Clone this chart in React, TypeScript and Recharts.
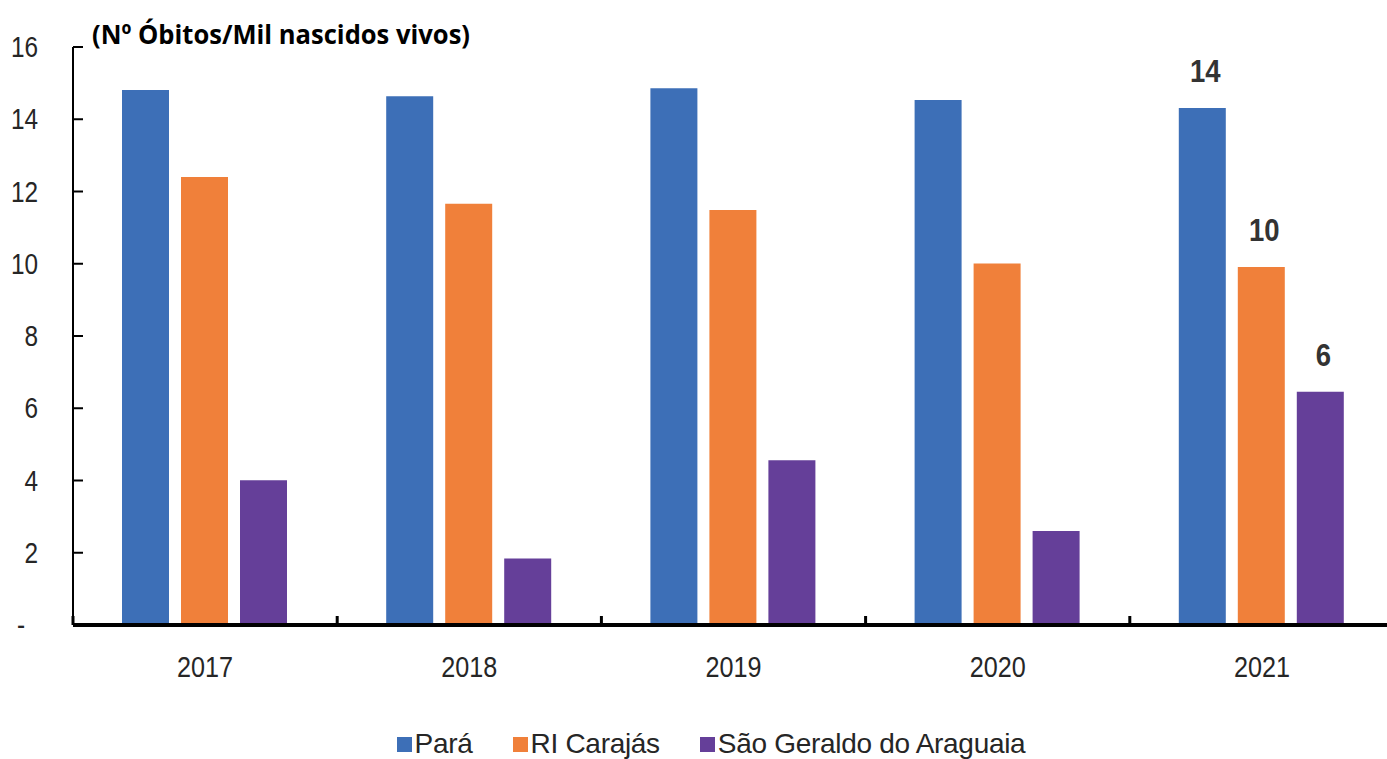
import { Bar, BarChart, LabelList, Legend, XAxis, YAxis } from "recharts";

// Mortalidade infantil (óbitos por mil nascidos vivos), 2017–2021
const YEARS = ["2017", "2018", "2019", "2020", "2021"];
const PARA = [14.81, 14.64, 14.86, 14.53, 14.31];
const RI_CARAJAS = [12.4, 11.66, 11.49, 10.01, 9.91];
const SAO_GERALDO = [4.01, 1.84, 4.56, 2.6, 6.46];
const Y_TICKS = [0, 2, 4, 6, 8, 10, 12, 14, 16];
const LABELLED_YEAR = "2021";

const SERIES = [
  { key: "para", name: "Pará", color: "#3d6fb7", values: PARA },
  { key: "ri", name: "RI Carajás", color: "#f0803a", values: RI_CARAJAS },
  { key: "sga", name: "São Geraldo do Araguaia", color: "#653f99", values: SAO_GERALDO },
];

const CHART_W = 1394;
const CHART_H = 759;
const Y_AXIS_W = 73;
const HALF_BAND = (CHART_W - Y_AXIS_W) / YEARS.length / 2;
const FONT = "'Liberation Sans', Arial, sans-serif";
const TEXT = "#262626";

const data = YEARS.map((year, i) => {
  const row: Record<string, string | number> = { year };
  for (const s of SERIES) row[s.key] = s.values[i];
  return row;
});

function YTick({ x, y, payload }: any) {
  const v = payload.value;
  return (
    <g>
      <line x1={x} x2={x + 10} y1={y} y2={y} stroke="#000" strokeWidth={2} />
      <g transform={`translate(${v === 0 ? x - 48 : x - 35},${y + 10}) scale(0.84,1)`}>
        <text textAnchor="end" fontSize={29} fontFamily={FONT} fill={TEXT}>
          {v === 0 ? "-" : v}
        </text>
      </g>
    </g>
  );
}

function XTick({ x, y, payload, index }: any) {
  return (
    <g>
      {index === 0 && (
        <line x1={x - HALF_BAND} x2={x - HALF_BAND} y1={y} y2={y - 9} stroke="#000" strokeWidth={3} />
      )}
      <line x1={x + HALF_BAND} x2={x + HALF_BAND} y1={y} y2={y - 9} stroke="#000" strokeWidth={3} />
      <g transform={`translate(${x},${y + 52}) scale(0.84,1)`}>
        <text textAnchor="middle" fontSize={30} fontFamily={FONT} fill={TEXT}>
          {payload.value}
        </text>
      </g>
    </g>
  );
}

function ValueLabel(props: any) {
  const vb = props.viewBox ?? props;
  const { index, value } = props;
  if (YEARS[index] !== LABELLED_YEAR || value == null) return null;
  const cx = vb.x + vb.width / 2 + 3;
  return (
    <g transform={`translate(${cx},${vb.y - 26}) scale(0.86,1)`}>
      <text textAnchor="middle" fontSize={32} fontWeight={700} fontFamily={FONT} fill="#333">
        {Math.round(Number(value))}
      </text>
    </g>
  );
}

function LegendContent() {
  return (
    <div
      style={{
        height: 30,
        display: "flex",
        justifyContent: "center",
        alignItems: "center",
        paddingLeft: 28,
        fontFamily: FONT,
        fontSize: 28,
        letterSpacing: -0.3,
        color: TEXT,
        lineHeight: "30px",
      }}
    >
      {SERIES.map((s, i) => (
        <div
          key={s.key}
          style={{ display: "flex", alignItems: "center", marginRight: i < SERIES.length - 1 ? 40 : 0 }}
        >
          <span style={{ width: 15, height: 15, background: s.color, marginRight: 3, display: "inline-block" }} />
          <span>{s.name}</span>
        </div>
      ))}
    </div>
  );
}

export default function App() {
  return (
    <div
      style={{
        position: "absolute",
        left: 0,
        top: 0,
        width: 1387,
        height: CHART_H,
        overflow: "hidden",
        background: "#fff",
      }}
    >
      <BarChart
        width={CHART_W}
        height={CHART_H}
        data={data}
        margin={{ top: 47, right: 0, bottom: 0, left: 0 }}
        barCategoryGap={49}
        barGap={12}
      >
        <YAxis
          width={Y_AXIS_W}
          domain={[0, 16]}
          ticks={Y_TICKS}
          interval={0}
          axisLine={{ stroke: "#000", strokeWidth: 2 }}
          tickLine={false}
          tickSize={0}
          tickMargin={0}
          tick={<YTick />}
        />
        <XAxis
          dataKey="year"
          height={104}
          axisLine={{ stroke: "#000", strokeWidth: 4 }}
          tickLine={false}
          tickSize={0}
          tickMargin={0}
          interval={0}
          tick={<XTick />}
        />
        <Legend verticalAlign="bottom" height={30} content={<LegendContent />} />
        {SERIES.map((s) => (
          <Bar key={s.key} dataKey={s.key} name={s.name} fill={s.color} isAnimationActive={false}>
            <LabelList dataKey={s.key} content={<ValueLabel />} />
          </Bar>
        ))}
      </BarChart>
      <svg
        width={1387}
        height={60}
        style={{ position: "absolute", left: 0, top: 0, pointerEvents: "none" }}
      >
        <text
          x={92}
          y={44}
          textLength={378}
          lengthAdjust="spacingAndGlyphs"
          fontFamily="'Open Sans', sans-serif"
          fontWeight={700}
          fontSize={27}
          fill="#000"
        >
          (Nº Óbitos/Mil nascidos vivos)
        </text>
      </svg>
    </div>
  );
}
